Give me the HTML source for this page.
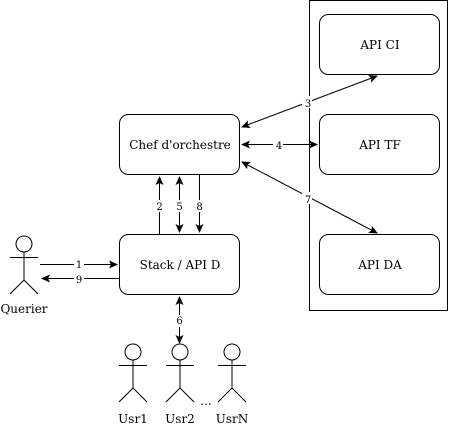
<!DOCTYPE html>
<html><head><style>body{margin:0;background:#fff}</style></head><body>
<svg width="450" height="440" xmlns="http://www.w3.org/2000/svg" font-family="DejaVu Serif, Liberation Serif, serif" font-size="12">
<defs><marker id="a" markerWidth="10" markerHeight="10" refX="8" refY="4" orient="auto-start-reverse" markerUnits="userSpaceOnUse"><path d="M0,0 L9,4 L0,8 L2,4 Z" fill="#000"/></marker></defs>
<g fill="none" stroke="#000" stroke-width="1">
<rect x="309.5" y="0.5" width="138" height="310"/>
<rect x="319.5" y="14.5" width="120" height="60" rx="9"/>
<rect x="319.5" y="114.5" width="120" height="60" rx="9"/>
<rect x="319.5" y="234.5" width="120" height="60" rx="9"/>
<rect x="119.5" y="114.5" width="120" height="60" rx="9"/>
<rect x="119.5" y="234.5" width="120" height="60" rx="9"/>
<line x1="242" y1="127" x2="377" y2="76" marker-start="url(#a)" marker-end="url(#a)"/>
<line x1="242" y1="144.5" x2="317" y2="144.5" marker-start="url(#a)" marker-end="url(#a)"/>
<line x1="242" y1="162" x2="377" y2="233" marker-start="url(#a)" marker-end="url(#a)"/>
<line x1="159.5" y1="234" x2="159.5" y2="177" marker-end="url(#a)"/>
<line x1="179.5" y1="177" x2="179.5" y2="232" marker-start="url(#a)" marker-end="url(#a)"/>
<line x1="199.5" y1="175" x2="199.5" y2="232" marker-end="url(#a)"/>
<line x1="40" y1="264.5" x2="117" y2="264.5" marker-end="url(#a)"/>
<line x1="119" y1="278.5" x2="42" y2="278.5" marker-end="url(#a)"/>
<line x1="179.5" y1="297" x2="179.5" y2="343" marker-start="url(#a)" marker-end="url(#a)"/>
<g id="act"><circle cx="24" cy="244" r="8"/><line x1="24" y1="252" x2="24" y2="280"/><line x1="10" y1="257.5" x2="38" y2="257.5"/><line x1="24" y1="280" x2="10" y2="294"/><line x1="24" y1="280" x2="38" y2="294"/></g>
<use href="#act" x="109" y="108"/>
<use href="#act" x="156" y="108"/>
<use href="#act" x="208" y="108"/>
</g>
<g text-anchor="middle" fill="#000">
<text x="180" y="149">Chef d'orchestre</text>
<text x="180" y="269">Stack / API D</text>
<text x="380" y="49">API CI</text>
<text x="380" y="149">API TF</text>
<text x="380" y="269">API DA</text>
<text x="24" y="313">Querier</text>
<text x="133" y="423">Usr1</text>
<text x="180" y="423">Usr2</text>
<text x="232" y="423">UsrN</text>
<text x="206" y="405">...</text>
<g font-size="10">
<rect x="302" y="96" width="10" height="12" fill="#fff"/><text x="308" y="107">3</text>
<rect x="273" y="139" width="10" height="12" fill="#fff"/><text x="279" y="149">4</text>
<rect x="302" y="192" width="10" height="12" fill="#fff"/><text x="308" y="203">7</text>
<rect x="154" y="200" width="10" height="12" fill="#fff"/><text x="159.5" y="210">2</text>
<rect x="174" y="200" width="10" height="12" fill="#fff"/><text x="179.5" y="210">5</text>
<rect x="194" y="200" width="10" height="12" fill="#fff"/><text x="199.5" y="210">8</text>
<rect x="74" y="259" width="10" height="11" fill="#fff"/><text x="79" y="268">1</text>
<rect x="74" y="273" width="10" height="11" fill="#fff"/><text x="79" y="283">9</text>
<rect x="174" y="315" width="10" height="12" fill="#fff"/><text x="179.5" y="324">6</text>
</g></g>
</svg>
</body></html>
